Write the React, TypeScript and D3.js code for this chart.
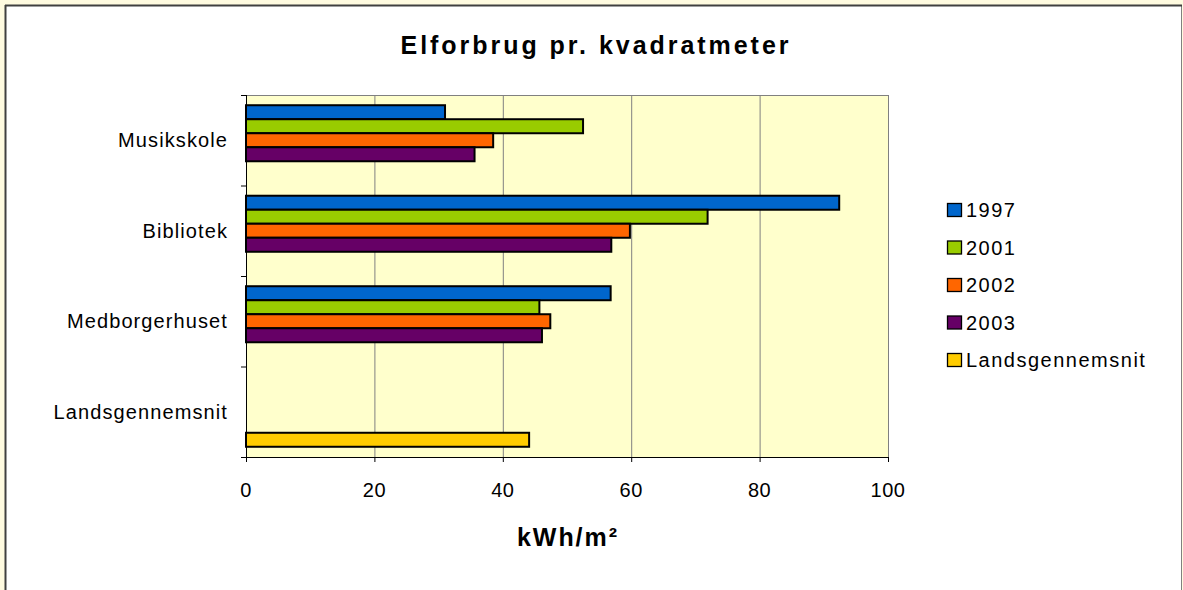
import React from 'react';
import * as d3 from 'd3';

const categories = ['Musikskole', 'Bibliotek', 'Medborgerhuset', 'Landsgennemsnit'];
const seriesNames = ['1997', '2001', '2002', '2003', 'Landsgennemsnit'];
const v1997 = [31.0, 92.4, 56.8, null];
const v2001 = [52.5, 71.9, 45.7, null];
const v2002 = [38.5, 59.8, 47.4, null];
const v2003 = [35.6, 56.9, 46.1, null];
const vLands = [null, null, null, 44.1];
const xTicks = [0, 20, 40, 60, 80, 100];

const seriesValues = [v1997, v2001, v2002, v2003, vLands];
const colors = ['#0066CC', '#99CC00', '#FF6600', '#660066', '#FFCC00'];

const W = 1183;
const H = 590;
const plot = { left: 246, right: 888, top: 95, bottom: 457 };
const font = "'Liberation Sans', Arial, sans-serif";

export default function App() {
  const x = d3.scaleLinear().domain([0, 100]).range([plot.left, plot.right]);
  const y = d3.scaleBand().domain(categories).range([plot.top, plot.bottom]).padding(0);
  const inner = d3.scaleBand()
    .domain(seriesNames)
    .range([0, y.bandwidth()])
    .paddingInner(0)
    .paddingOuter(0.73);

  const legendY = d3.scalePoint().domain(seriesNames).range([217, 367]);

  const boundaries = categories.map(c => y(c) as number).concat([plot.bottom]);

  return (
    <svg width={W} height={H} style={{ position: 'absolute', left: 0, top: 0 }} fontFamily={font}>
      <rect x={0} y={0} width={W} height={H} fill="#FFFBE0" />
      <rect x={5.5} y={5.5} width={1176} height={600} fill="#FFFFFF" stroke="#808080" strokeWidth={1} />
      <line x1={5} x2={1182} y1={5.5} y2={5.5} stroke="#404040" strokeWidth={2} />
      <line x1={5.5} x2={5.5} y1={5} y2={H} stroke="#404040" strokeWidth={2} />

      <text x={594.5} y={54} textAnchor="middle" fontSize={25} fontWeight="bold"
        textLength={388} lengthAdjust="spacing">Elforbrug pr. kvadratmeter</text>

      {/* plot area */}
      <rect x={plot.left} y={plot.top} width={plot.right - plot.left} height={plot.bottom - plot.top} fill="#FFFFCC" />
      {xTicks.slice(1).map(t => (
        <line key={t} x1={x(t) + 0.5} x2={x(t) + 0.5} y1={plot.top} y2={plot.bottom} stroke="#808080" strokeWidth={1} />
      ))}
      <line x1={plot.left} x2={plot.right} y1={plot.top + 0.5} y2={plot.top + 0.5} stroke="#808080" strokeWidth={1} />

      {/* bars */}
      {seriesValues.map((vals, si) =>
        vals.map((v, ci) => v == null ? null : (
          <rect key={si + '-' + ci}
            x={x(0)}
            y={(y(categories[ci]) as number) + (inner(seriesNames[si]) as number)}
            width={x(v) - x(0)}
            height={inner.bandwidth()}
            fill={colors[si]}
            stroke="#000000"
            strokeWidth={2} />
        ))
      )}

      {/* y axis */}
      <line x1={plot.left + 0.5} x2={plot.left + 0.5} y1={plot.top} y2={plot.bottom} stroke="#000" strokeWidth={1} />
      {boundaries.map((b, i) => (
        <line key={i} x1={plot.left - 5} x2={plot.left} y1={b + 0.5} y2={b + 0.5} stroke="#000" strokeWidth={1} />
      ))}
      {categories.map(c => (
        <text key={c} x={228} y={(y(c) as number) + y.bandwidth() / 2 + 7} textAnchor="end"
          fontSize={20} letterSpacing={1.1} fill="#000">{c}</text>
      ))}

      {/* x axis */}
      <line x1={plot.left} x2={plot.right} y1={plot.bottom + 0.5} y2={plot.bottom + 0.5} stroke="#000" strokeWidth={1} />
      {xTicks.map(t => (
        <g key={t}>
          <line x1={x(t) + 0.5} x2={x(t) + 0.5} y1={plot.bottom} y2={plot.bottom + 5} stroke="#000" strokeWidth={1} />
          <text x={x(t)} y={497} textAnchor="middle" fontSize={20} letterSpacing={0.5} fill="#000">{t}</text>
        </g>
      ))}
      <text x={(plot.left + plot.right) / 2} y={546} textAnchor="middle" fontSize={25} fontWeight="bold"
        textLength={100} lengthAdjust="spacing">kWh/m²</text>

      {/* legend */}
      {seriesNames.map((s, i) => {
        const by = legendY(s) as number;
        return (
          <g key={s}>
            <rect x={947.5} y={by - 13.5} width={14} height={13} fill={colors[i]} stroke="#000" strokeWidth={1.3} />
            <text x={966} y={by} fontSize={20} letterSpacing={1.5} fill="#000">{s}</text>
          </g>
        );
      })}
    </svg>
  );
}
